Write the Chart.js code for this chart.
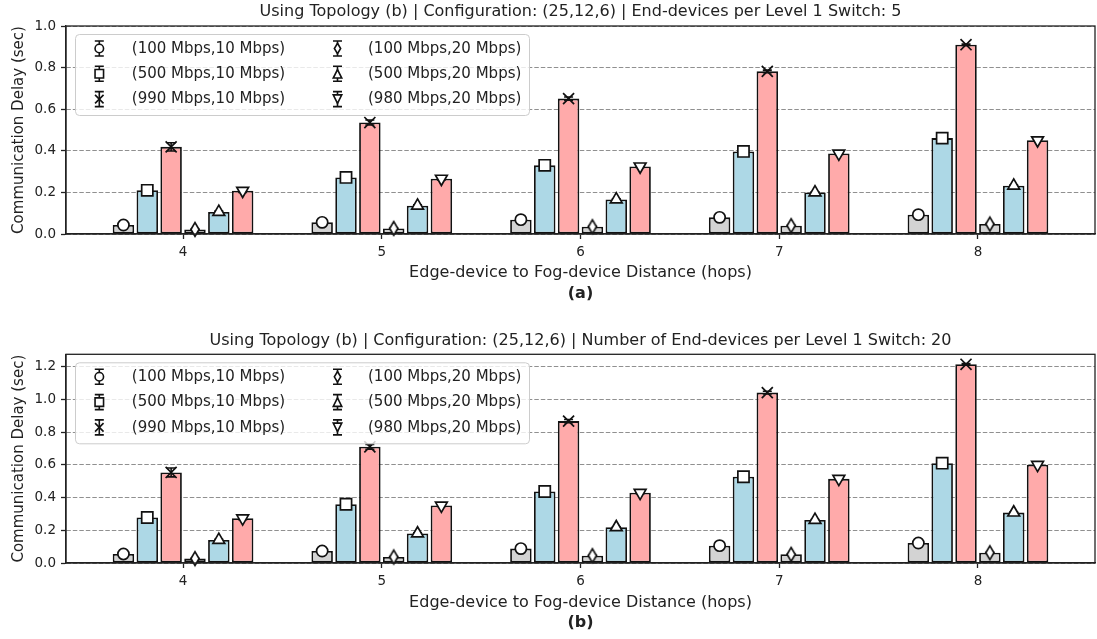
<!DOCTYPE html>
<html>
<head>
<meta charset="utf-8">
<script src="https://cdn.jsdelivr.net/npm/chart.js@4.4.1/dist/chart.umd.min.js"></script>
<style>
html,body{margin:0;padding:0;background:#fff;}
#wrap{position:relative;width:1097px;height:639px;overflow:hidden;}
canvas{position:absolute;left:0;}
#ca{top:0;}
#cb{top:320px;}
</style>
</head>
<body>
<div id="wrap">
<canvas id="ca" width="1097" height="320"></canvas>
<canvas id="cb" width="1097" height="319"></canvas>
</div>
<script>
// ---------- data ----------
const hops = [4, 5, 6, 7, 8];
const seriesLabels = ['(100 Mbps,10 Mbps)', '(500 Mbps,10 Mbps)', '(990 Mbps,10 Mbps)',
                      '(100 Mbps,20 Mbps)', '(500 Mbps,20 Mbps)', '(980 Mbps,20 Mbps)'];
const yTicksA = [0, 0.2, 0.4, 0.6, 0.8, 1.0];
const yTicksB = [0, 0.2, 0.4, 0.6, 0.8, 1.0, 1.2];

// (a) End-devices per Level 1 Switch: 5
const delayA_100_10 = [0.043, 0.056, 0.069, 0.080, 0.093];
const delayA_500_10 = [0.210, 0.272, 0.330, 0.397, 0.461];
const delayA_990_10 = [0.419, 0.536, 0.651, 0.782, 0.910];
const delayA_100_20 = [0.022, 0.027, 0.035, 0.040, 0.048];
const delayA_500_20 = [0.106, 0.136, 0.166, 0.200, 0.232];
const delayA_980_20 = [0.208, 0.266, 0.325, 0.387, 0.451];
const errA_100_10 = [0.002, 0.002, 0.002, 0.002, 0.002];
const errA_500_10 = [0.005, 0.005, 0.005, 0.004, 0.004];
const errA_990_10 = [0.020, 0.012, 0.008, 0.006, 0.003];
const errA_100_20 = [0.002, 0.002, 0.002, 0.002, 0.002];
const errA_500_20 = [0.004, 0.004, 0.003, 0.003, 0.003];
const errA_980_20 = [0.008, 0.006, 0.005, 0.004, 0.003];

// (b) Number of End-devices per Level 1 Switch: 20
const delayB_100_10 = [0.055, 0.073, 0.088, 0.106, 0.122];
const delayB_500_10 = [0.278, 0.359, 0.437, 0.527, 0.610];
const delayB_990_10 = [0.553, 0.710, 0.867, 1.041, 1.214];
const delayB_100_20 = [0.027, 0.037, 0.045, 0.053, 0.063];
const delayB_500_20 = [0.141, 0.180, 0.218, 0.263, 0.308];
const delayB_980_20 = [0.273, 0.351, 0.429, 0.514, 0.600];
const errB_100_10 = [0.002, 0.002, 0.002, 0.002, 0.002];
const errB_500_10 = [0.006, 0.005, 0.005, 0.004, 0.004];
const errB_990_10 = [0.027, 0.015, 0.010, 0.008, 0.004];
const errB_100_20 = [0.002, 0.002, 0.002, 0.002, 0.002];
const errB_500_20 = [0.004, 0.004, 0.003, 0.003, 0.003];
const errB_980_20 = [0.008, 0.006, 0.005, 0.004, 0.003];

// ---------- styles ----------
const FONT = "'DejaVu Sans', sans-serif";
const TXT = '#222222';
const INK = '#111111';
const barColors = ['#d3d3d3', '#add8e6', '#ffaaaa', '#d3d3d3', '#add8e6', '#ffaaaa'];
const markerKinds = ['o', 's', 'x', 'd', '^', 'v'];
const barOffsets = [-0.3, -0.18, -0.06, 0.06, 0.18, 0.3];

Chart.defaults.font.family = FONT;
Chart.defaults.color = TXT;

// vector marker path used for the legend and the thin diamond
function drawMarker(g, kind, x, y, s, lw) {
  g.save();
  g.translate(x, y);
  g.lineWidth = lw; g.strokeStyle = INK; g.fillStyle = '#fff';
  g.beginPath();
  const r = s / 2;
  switch (kind) {
    case 'o': g.arc(0, 0, r, 0, Math.PI * 2); break;
    case 's': g.rect(-r, -r, s, s); break;
    case 'x':
      g.moveTo(-r, -r); g.lineTo(r, r); g.moveTo(r, -r); g.lineTo(-r, r);
      g.stroke(); g.restore(); return;
    case 'd': {
      const hh = s * 0.62, hw = s * 0.37;
      g.moveTo(0, -hh); g.lineTo(hw, 0); g.lineTo(0, hh); g.lineTo(-hw, 0); g.closePath(); break;
    }
    case '^': g.moveTo(0, -r); g.lineTo(r, r); g.lineTo(-r, r); g.closePath(); break;
    case 'v': g.moveTo(0, r); g.lineTo(r, -r); g.lineTo(-r, -r); g.closePath(); break;
  }
  g.fill(); g.stroke();
  g.restore();
}
function diamondImage(s) {
  const c = document.createElement('canvas');
  c.width = Math.ceil(s) + 5; c.height = Math.ceil(s * 1.24) + 5;
  drawMarker(c.getContext('2d'), 'd', c.width / 2, c.height / 2, s, 1.7);
  return c;
}
// Chart.js point styles for each series
const pointStyles = ['circle', 'rect', 'crossRot', diamondImage(11), 'triangle', 'triangle'];
const pointRadii = [5.6, 7.9, 7.8, 6, 6.8, 6.8];
const pointRotations = [0, 0, 0, 0, 0, 180];

// error bars drawn between bars and markers
const errorBarPlugin = {
  id: 'errbars',
  beforeDatasetsDraw(chart) { chart.$errDone = false; },
  beforeDatasetDraw(chart, args) {
    if (chart.$errDone || args.meta.type !== 'scatter') return;
    chart.$errDone = true;
    const ctx = chart.ctx, xs = chart.scales.x, ys = chart.scales.y;
    ctx.save();
    ctx.strokeStyle = INK; ctx.lineWidth = 1.6;
    chart.data.datasets.forEach(ds => {
      if (ds.type !== 'scatter') return;
      ds.data.forEach((p, j) => {
        const e = ds.errors[j];
        const x = xs.getPixelForValue(p.x);
        const y1 = ys.getPixelForValue(p.y - e), y2 = ys.getPixelForValue(p.y + e);
        ctx.beginPath();
        ctx.moveTo(x, y1); ctx.lineTo(x, y2);
        ctx.moveTo(x - 4.5, y1); ctx.lineTo(x + 4.5, y1);
        ctx.moveTo(x - 4.5, y2); ctx.lineTo(x + 4.5, y2);
        ctx.stroke();
      });
    });
    ctx.restore();
  }
};

// full frame (matplotlib spines)
const framePlugin = {
  id: 'frame',
  afterDatasetsDraw(chart) {
    const a = chart.chartArea, ctx = chart.ctx;
    ctx.save();
    ctx.strokeStyle = '#222'; ctx.lineWidth = 1.3;
    ctx.strokeRect(a.left, a.top, a.right - a.left, a.bottom - a.top);
    ctx.restore();
  }
};

// matplotlib-like legend (2 columns x 3 rows) inside the axes
const legendPlugin = {
  id: 'mplLegend',
  afterDraw(chart) {
    const ctx = chart.ctx, a = chart.chartArea;
    const L = a.left + 9.5, T = a.top + 8.5, W = 454, H = 81, R = 4;
    ctx.save();
    ctx.beginPath();
    ctx.moveTo(L + R, T);
    ctx.arcTo(L + W, T, L + W, T + H, R);
    ctx.arcTo(L + W, T + H, L, T + H, R);
    ctx.arcTo(L, T + H, L, T, R);
    ctx.arcTo(L, T, L + W, T, R);
    ctx.closePath();
    ctx.fillStyle = 'rgba(255,255,255,0.8)';
    ctx.fill();
    ctx.strokeStyle = '#cccccc'; ctx.lineWidth = 1;
    ctx.stroke();
    ctx.font = '15px ' + FONT;
    ctx.textBaseline = 'middle';
    ctx.textAlign = 'left';
    for (let i = 0; i < seriesLabels.length; i++) {
      const col = Math.floor(i / 3), row = i % 3;
      const mx = L + (col ? 262 : 23.8);
      const ty = T + 14 + row * 25.3;
      ctx.strokeStyle = INK; ctx.lineWidth = 1.6;
      ctx.beginPath();
      ctx.moveTo(mx, ty - 7.5); ctx.lineTo(mx, ty + 7.5);
      ctx.moveTo(mx - 4.5, ty - 7.5); ctx.lineTo(mx + 4.5, ty - 7.5);
      ctx.moveTo(mx - 4.5, ty + 7.5); ctx.lineTo(mx + 4.5, ty + 7.5);
      ctx.stroke();
      drawMarker(ctx, markerKinds[i], mx, ty, 8.5, 1.6);
      ctx.fillStyle = TXT;
      ctx.fillText(seriesLabels[i], L + (col ? 292.5 : 56.3), ty + 0.5);
    }
    ctx.restore();
  }
};

function buildChart(id, p) {
  const datasets = [];
  p.series.forEach((vals, i) => {
    datasets.push({
      type: 'bar', label: seriesLabels[i],
      data: hops.map((h, j) => ({ x: h + barOffsets[i], y: vals[j] })),
      backgroundColor: barColors[i], borderColor: INK, borderWidth: 1.8,
      borderSkipped: false, grouped: false, barPercentage: 0.9, categoryPercentage: 1,
      order: 2
    });
  });
  p.series.forEach((vals, i) => {
    datasets.push({
      type: 'scatter', label: seriesLabels[i],
      data: hops.map((h, j) => ({ x: h + barOffsets[i], y: vals[j] })),
      errors: p.errors[i],
      pointStyle: pointStyles[i], pointRadius: pointRadii[i], pointRotation: pointRotations[i],
      pointBackgroundColor: '#ffffff', pointBorderColor: INK, pointBorderWidth: 1.7,
      showLine: false, clip: false, order: 0
    });
  });
  return new Chart(document.getElementById(id), {
    type: 'bar',
    data: { datasets },
    options: {
      responsive: false, animation: false, devicePixelRatio: 1, events: [],
      layout: { autoPadding: false, padding: { left: 0, right: 2, top: 0, bottom: 0 } },
      plugins: {
        legend: { display: false }, tooltip: { enabled: false },
        title: {
          display: true, text: p.title, fullSize: false, color: TXT,
          font: { size: 16, weight: 'normal', family: FONT },
          padding: { top: p.tPadT, bottom: p.tPadB }
        },
        subtitle: {
          display: true, position: 'bottom', text: p.sub, fullSize: false, color: TXT,
          font: { size: 16, weight: 'bold', family: FONT },
          padding: { top: 0, bottom: p.sPadB }
        }
      },
      scales: {
        x: {
          type: 'linear', min: 3.411, max: 8.589, offset: false,
          afterBuildTicks: s => { s.ticks = hops.map(v => ({ value: v })); },
          ticks: { callback: v => String(v), font: { size: 13.5 }, color: TXT, padding: 5, maxRotation: 0, autoSkip: false },
          grid: { display: true, drawOnChartArea: false, drawTicks: true, tickLength: 5, tickColor: '#222', tickWidth: 1.3, offset: false },
          border: { display: true, color: '#222', width: 1.3 },
          title: {
            display: true, text: 'Edge-device to Fog-device Distance (hops)', color: TXT,
            font: { size: 16 }, padding: { top: 0, bottom: p.xtPadB }
          },
          afterFit: s => { s.height = p.xH; }
        },
        y: {
          type: 'linear', min: 0, max: p.yMax,
          afterBuildTicks: s => { s.ticks = p.yTicks.map(v => ({ value: v })); },
          ticks: { callback: v => Number(v).toFixed(1), font: { size: 13.5 }, color: TXT, padding: 5 },
          grid: { color: '#909090', lineWidth: 1, drawTicks: true, tickLength: 5, tickColor: '#222', tickWidth: 1.3 },
          border: { display: true, color: '#222', width: 1.3, dash: [4.5, 2] },
          title: {
            display: true, text: 'Communication Delay (sec)', color: TXT,
            font: { size: 15 }, padding: { top: 10, bottom: 0 }
          },
          afterFit: s => { s.width = 66; }
        }
      }
    },
    plugins: [errorBarPlugin, framePlugin, legendPlugin]
  });
}

buildChart('ca', {
  series: [delayA_100_10, delayA_500_10, delayA_990_10, delayA_100_20, delayA_500_20, delayA_980_20],
  errors: [errA_100_10, errA_500_10, errA_990_10, errA_100_20, errA_500_20, errA_980_20],
  title: 'Using Topology (b) | Configuration: (25,12,6) | End-devices per Level 1 Switch: 5',
  sub: '(a)', yMax: 1.0, yTicks: yTicksA,
  tPadT: 2.4, tPadB: 4.4, xH: 50.4, xtPadB: 1.8, sPadB: 16.4
});
buildChart('cb', {
  series: [delayB_100_10, delayB_500_10, delayB_990_10, delayB_100_20, delayB_500_20, delayB_980_20],
  errors: [errB_100_10, errB_500_10, errB_990_10, errB_100_20, errB_500_20, errB_980_20],
  title: 'Using Topology (b) | Configuration: (25,12,6) | Number of End-devices per Level 1 Switch: 20',
  sub: '(b)', yMax: 1.275, yTicks: yTicksB,
  tPadT: 11.4, tPadB: 3.7, xH: 50.7, xtPadB: 1.4, sPadB: 6.1
});
</script>
</body>
</html>
